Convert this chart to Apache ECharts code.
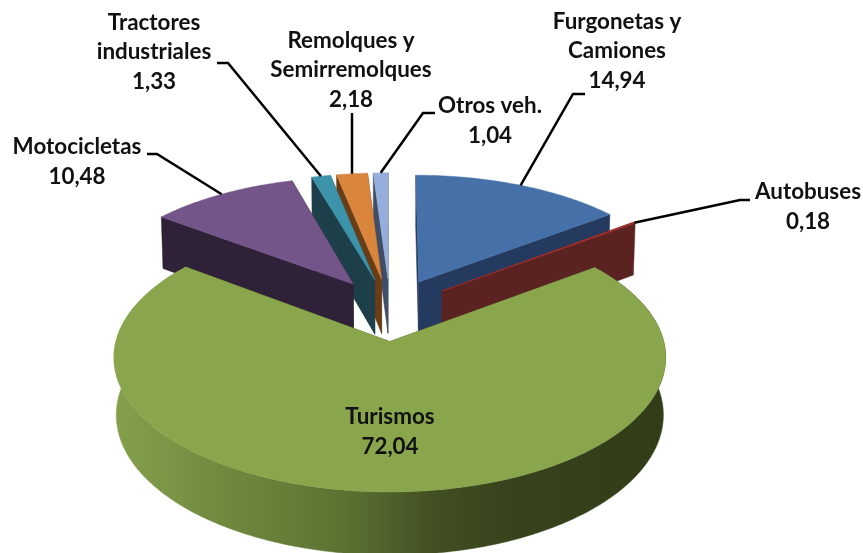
<!DOCTYPE html>
<html>
<head>
<meta charset="utf-8">
<title>Parque de vehiculos</title>
<style>
  html, body { margin: 0; padding: 0; background: #fff; }
  #chart { width: 863px; height: 553px; }
</style>
<script src="https://cdn.jsdelivr.net/npm/echarts@6/dist/echarts.min.js"></script>
</head>
<body>
<div id="chart"></div>
<script>
// clockwise from 12 o'clock, same order as the source sheet
const categories = ['Furgonetas y\nCamiones', 'Autobuses', 'Turismos', 'Motocicletas', 'Tractores\nindustriales', 'Remolques y\nSemirremolques', 'Otros veh.'];
const values = [14.94, 0.18, 72.04, 10.48, 1.33, 2.18, 1.04];

// painter's order, back slices first
const drawOrder = [6, 5, 4, 3, 0, 1, 2];

const topColors = ['#4571a8', '#a8322e', '#8aa64d', '#735589', '#3d93aa', '#d9853c', '#95aedb'];
const wallColors = ['#243a5e', '#5a2321', '#3d4a20', '#2f2137', '#1c3f4a', '#6b3d17', '#3f4d66'];

// label centre and elbow of each leader line (Turismos has no leader)
const labelCenters = [[617, 51], [808, 207], [390, 432], [77, 162], [154, 52], [351, 70], [490, 121]];
const leaderElbows = [
  [[585, 94], [573, 94]],
  [[750, 200], [740, 200]],
  null,
  [[147, 154], [157, 154]],
  [[217, 63], [228, 63]],
  [[352, 113]],
  [[435, 113], [423, 113]],
];

// projection of the pie plane, fitted to the picture
const CX = 390;
const CY = 309.4;
const RADIUS = 266;
const EXPLODE = 0.25;
const PERSPECTIVE = 0.115;
const TILT = 0.47;
const DEPTH = 56;
const DEPTH_SHRINK = 0.008;

const total = values.reduce((acc, v) => acc + v, 0);
const rad = (deg) => (deg * Math.PI) / 180;

const slices = values.map((v, i) => {
  const before = values.slice(0, i).reduce((acc, x) => acc + x, 0);
  const start = (before / total) * 360;
  const end = ((before + v) / total) * 360;
  const mid = (start + end) / 2;
  return { start, end, mid, ox: EXPLODE * Math.sin(rad(mid)), oy: EXPLODE * Math.cos(rad(mid)) };
});

// u, v in radius units on the pie plane, v pointing away from the viewer
const project = (u, v, lower) => {
  const w = 1 + PERSPECTIVE * v + (lower ? DEPTH_SHRINK : 0);
  const drop = lower ? DEPTH : 0;
  return [CX + (u * RADIUS) / w, CY - (TILT * v * RADIUS - drop) / w];
};

const rimPoint = (s, deg, lower) => project(s.ox + Math.sin(rad(deg)), s.oy + Math.cos(rad(deg)), lower);
const apexPoint = (s, lower) => project(s.ox, s.oy, lower);

const rimPoints = (s, lower) => {
  const pts = [];
  for (let a = s.start; a < s.end; a += 1) pts.push(rimPoint(s, a, lower));
  pts.push(rimPoint(s, s.end, lower));
  return pts;
};

const polygon = (points, fill) => ({
  type: 'polygon',
  shape: { points },
  style: { fill, stroke: fill, lineWidth: 0.5 },
  silent: true,
});

const radialWall = (s, deg, fill) => polygon(
  [apexPoint(s, false), rimPoint(s, deg, false), rimPoint(s, deg, true), apexPoint(s, true)],
  fill,
);

const greenWall = () => new echarts.graphic.LinearGradient(0, 0, 1, 0, [
  { offset: 0, color: '#84a04c' },
  { offset: 0.2, color: '#6f8a3f' },
  { offset: 0.42, color: '#5b7232' },
  { offset: 0.58, color: '#424f22' },
  { offset: 0.72, color: '#37431c' },
  { offset: 1, color: '#323d18' },
]);

const renderItem = (params, api) => {
  const idx = api.value(0);
  const s = slices[idx];
  const children = [];

  children.push(radialWall(s, s.start, wallColors[idx]));
  children.push(radialWall(s, s.end, wallColors[idx]));

  // only the big slice shows its outer wall, the rest face away
  if (s.end - s.start > 180) {
    children.push(polygon(rimPoints(s, false).concat(rimPoints(s, true).reverse()), greenWall()));
  }

  children.push(polygon([apexPoint(s, false)].concat(rimPoints(s, false)), topColors[idx]));

  if (leaderElbows[idx]) {
    children.push({
      type: 'polyline',
      shape: { points: leaderElbows[idx].concat([rimPoint(s, s.mid, false)]) },
      style: { stroke: '#000', lineWidth: 2.5, fill: null },
      silent: true,
      z2: 10,
    });
  }

  const text = categories[idx] + '\n' + api.value(1).toFixed(2).replace('.', ',');
  children.push({
    type: 'text',
    x: labelCenters[idx][0],
    y: labelCenters[idx][1],
    style: {
      text,
      fill: '#111',
      font: 'bold 22.4px Lato, "Open Sans", sans-serif',
      lineHeight: 29.5,
      align: 'center',
      verticalAlign: 'middle',
    },
    silent: true,
    z2: 10,
  });

  return { type: 'group', children };
};

const chart = echarts.init(document.getElementById('chart'));
chart.setOption({
  animation: false,
  backgroundColor: '#fff',
  series: [{
    type: 'custom',
    coordinateSystem: 'none',
    renderItem,
    clip: false,
    data: drawOrder.map((i) => [i, values[i]]),
  }],
});
</script>
</body>
</html>
